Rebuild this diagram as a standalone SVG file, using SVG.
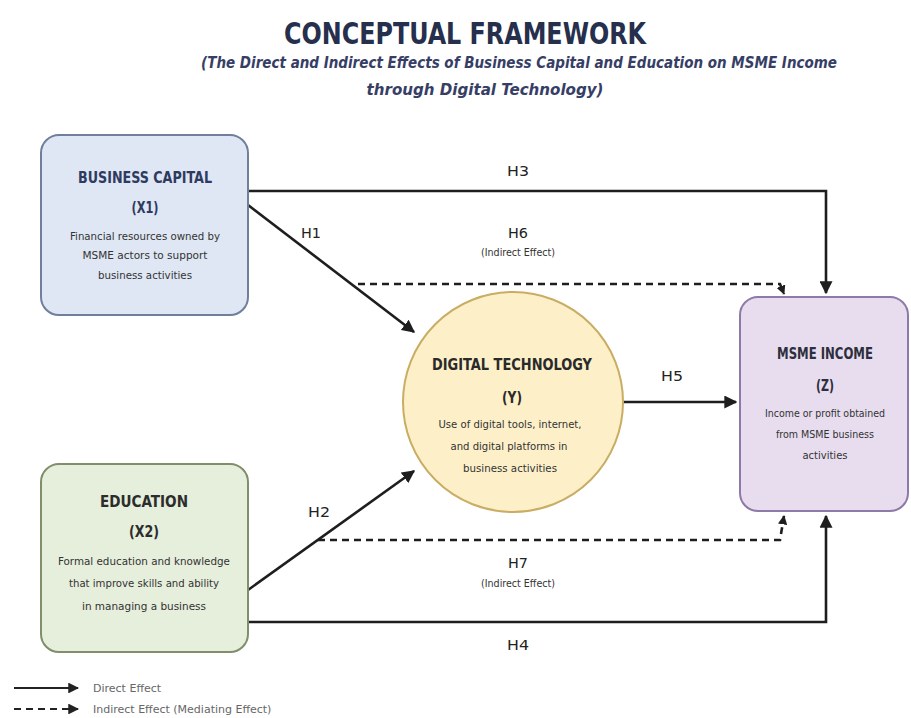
<svg xmlns="http://www.w3.org/2000/svg" width="911" height="718" viewBox="0 0 911 718">
<defs>
<marker id="arr" viewBox="0 0 10 10" refX="9" refY="5" markerWidth="5" markerHeight="5" orient="auto" markerUnits="strokeWidth"><path d="M0,0 L10,5 L0,10 z" fill="#1e1e1e"/></marker>
<marker id="arrs" viewBox="0 0 10 10" refX="9" refY="5" markerWidth="3.6" markerHeight="3.6" orient="auto" markerUnits="strokeWidth"><path d="M0,0 L10,5 L0,10 z" fill="#1e1e1e"/></marker>
<marker id="arrl" viewBox="0 0 10 10" refX="9" refY="5" markerWidth="6" markerHeight="6" orient="auto" markerUnits="strokeWidth"><path d="M0,0 L10,5 L0,10 z" fill="#222"/></marker>
</defs>
<style>
text{font-family:"DejaVu Sans Condensed","Liberation Sans Narrow","Liberation Sans",sans-serif;text-anchor:middle}
.title{font-size:30px;font-weight:bold;fill:#262f4c}
.sub{font-size:16px;font-weight:bold;font-style:italic;fill:#363e66}
.nt{font-size:15px;font-weight:bold}
.nb{font-size:11px;fill:#333}
.lab{font-size:14px;fill:#222}
.ie{font-size:10.5px;fill:#333}
.leg{font-family:"DejaVu Sans",sans-serif;font-size:11px;fill:#666;text-anchor:start}
.solid{fill:none;stroke:#1e1e1e;stroke-width:2.6}
.dash{fill:none;stroke:#1e1e1e;stroke-width:2.6;stroke-dasharray:7 5}
</style>
<rect width="911" height="718" fill="#ffffff"/>
<g id="title">
<text class="title" x="465" y="44" textLength="362" lengthAdjust="spacingAndGlyphs">CONCEPTUAL FRAMEWORK</text>
<text class="sub" x="519" y="68" textLength="636" lengthAdjust="spacingAndGlyphs">(The Direct and Indirect Effects of Business Capital and Education on MSME Income</text>
<text class="sub" x="485" y="95" textLength="237" lengthAdjust="spacingAndGlyphs">through Digital Technology)</text>
</g>
<g id="connectors">
<polyline class="solid" points="248,191 826,191 826,293" marker-end="url(#arr)"/>
<line class="solid" x1="248" y1="205" x2="414" y2="332" marker-end="url(#arr)"/>
<polyline class="dash" points="358,284 780,284 784,294" marker-end="url(#arrs)"/>
<line class="solid" x1="623" y1="402" x2="736" y2="402" marker-end="url(#arr)"/>
<line class="solid" x1="248" y1="590" x2="414" y2="471" marker-end="url(#arr)"/>
<polyline class="dash" points="318,540 780,540 784,516" marker-end="url(#arrs)"/>
<polyline class="solid" points="248,622 826,622 826,516" marker-end="url(#arr)"/>
<text class="lab" x="518" y="176" textLength="22" lengthAdjust="spacingAndGlyphs">H3</text>
<text class="lab" x="311" y="238" textLength="20" lengthAdjust="spacingAndGlyphs">H1</text>
<text class="lab" x="518" y="238" textLength="20" lengthAdjust="spacingAndGlyphs">H6</text>
<text class="ie" x="518" y="256" textLength="74" lengthAdjust="spacingAndGlyphs">(Indirect Effect)</text>
<text class="lab" x="672" y="381" textLength="22" lengthAdjust="spacingAndGlyphs">H5</text>
<text class="lab" x="319" y="517" textLength="22" lengthAdjust="spacingAndGlyphs">H2</text>
<text class="lab" x="518" y="568" textLength="20" lengthAdjust="spacingAndGlyphs">H7</text>
<text class="ie" x="518" y="587" textLength="74" lengthAdjust="spacingAndGlyphs">(Indirect Effect)</text>
<text class="lab" x="518" y="650" textLength="22" lengthAdjust="spacingAndGlyphs">H4</text>
</g>
<g id="business-capital">
<rect x="41" y="135" width="207" height="180" rx="18" fill="#dfe7f4" stroke="#6f7f9c" stroke-width="2"/>
<text class="nt" x="145" y="183" fill="#2e3a60" textLength="134" lengthAdjust="spacingAndGlyphs">BUSINESS CAPITAL</text>
<text class="nt" x="145" y="213" fill="#2e3a60" textLength="27" lengthAdjust="spacingAndGlyphs">(X1)</text>
<text class="nb" x="145" y="240" textLength="150" lengthAdjust="spacingAndGlyphs">Financial resources owned by</text>
<text class="nb" x="145" y="259" textLength="125" lengthAdjust="spacingAndGlyphs">MSME actors to support</text>
<text class="nb" x="145" y="279" textLength="94" lengthAdjust="spacingAndGlyphs">business activities</text>
</g>
<g id="education">
<rect x="41" y="464" width="207" height="188" rx="18" fill="#e6eedc" stroke="#7f8f6c" stroke-width="2"/>
<text class="nt" x="144" y="507" fill="#2c2c2c" textLength="88" lengthAdjust="spacingAndGlyphs">EDUCATION</text>
<text class="nt" x="144" y="537" fill="#2c2c2c" textLength="30" lengthAdjust="spacingAndGlyphs">(X2)</text>
<text class="nb" x="144" y="565" textLength="172" lengthAdjust="spacingAndGlyphs">Formal education and knowledge</text>
<text class="nb" x="144" y="587" textLength="150" lengthAdjust="spacingAndGlyphs">that improve skills and ability</text>
<text class="nb" x="144" y="610" textLength="124" lengthAdjust="spacingAndGlyphs">in managing a business</text>
</g>
<g id="digital-technology">
<circle cx="513" cy="402" r="110" fill="#fdf0c9" stroke="#c8ad63" stroke-width="2"/>
<text class="nt" x="512" y="370" fill="#2a2a2a" textLength="160" lengthAdjust="spacingAndGlyphs">DIGITAL TECHNOLOGY</text>
<text class="nt" x="512" y="403" fill="#2a2a2a" textLength="20" lengthAdjust="spacingAndGlyphs">(Y)</text>
<text class="nb" x="510" y="428" textLength="143" lengthAdjust="spacingAndGlyphs">Use of digital tools, internet,</text>
<text class="nb" x="509" y="450" textLength="117" lengthAdjust="spacingAndGlyphs">and digital platforms in</text>
<text class="nb" x="510" y="472" textLength="94" lengthAdjust="spacingAndGlyphs">business activities</text>
</g>
<g id="msme-income">
<rect x="740" y="297" width="168" height="214" rx="18" fill="#e7ddef" stroke="#8d7aa8" stroke-width="2"/>
<text class="nt" x="825" y="359" fill="#2e2e3c" textLength="96" lengthAdjust="spacingAndGlyphs">MSME INCOME</text>
<text class="nt" x="825" y="391" fill="#2e2e3c" textLength="18" lengthAdjust="spacingAndGlyphs">(Z)</text>
<text class="nb" x="825" y="417" textLength="120" lengthAdjust="spacingAndGlyphs">Income or profit obtained</text>
<text class="nb" x="825" y="438" textLength="98" lengthAdjust="spacingAndGlyphs">from MSME business</text>
<text class="nb" x="825" y="459" textLength="45" lengthAdjust="spacingAndGlyphs">activities</text>
</g>
<g id="legend">
<line x1="14" y1="688" x2="78" y2="688" stroke="#222" stroke-width="1.8" marker-end="url(#arrl)"/>
<line x1="14" y1="709" x2="78" y2="709" stroke="#222" stroke-width="1.8" stroke-dasharray="7 5" marker-end="url(#arrl)"/>
<text class="leg" x="93" y="692">Direct Effect</text>
<text class="leg" x="93" y="713">Indirect Effect (Mediating Effect)</text>
</g>
</svg>
